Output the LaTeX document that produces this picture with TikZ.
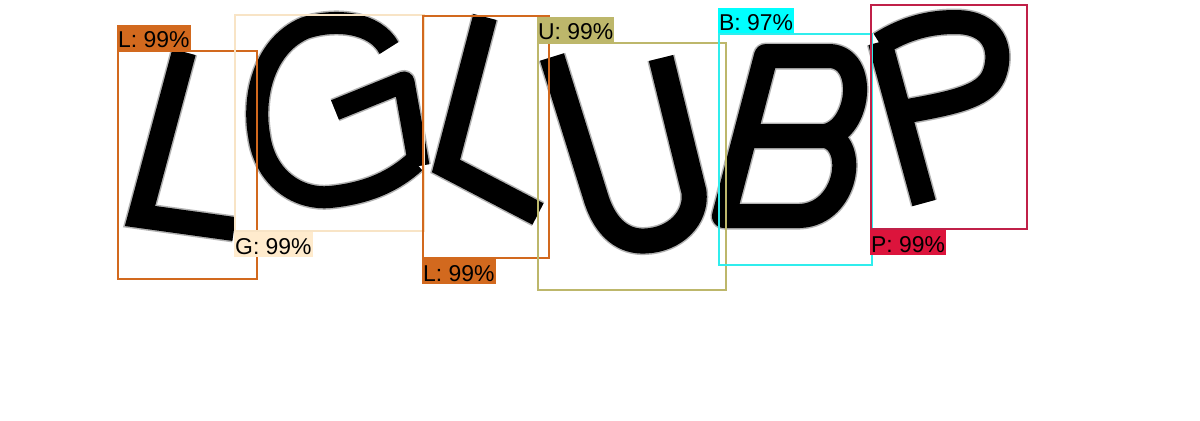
\documentclass[tikz,border=0pt]{standalone}
\usepackage{fontspec}
\setmainfont{Liberation Sans}
\definecolor{cChoc}{HTML}{D2691E}
\definecolor{cAlm}{HTML}{FFEBCD}
\definecolor{cAlmLine}{HTML}{F8E4C6}
\definecolor{cKhaki}{HTML}{BDB76B}
\definecolor{cCyan}{HTML}{00FFFF}
\definecolor{cCyanLine}{HTML}{30EDED}
\definecolor{cCrim}{HTML}{DC143C}
\definecolor{cCrimLine}{HTML}{C02048}
\newcommand{\myletters}[2]{%
  \begin{scope}[draw=#2, line cap=butt]
  \draw[line join=miter, line width=24bp+#1] (184,52) -- (140,216) -- (234,229);
  \draw[line join=round, line width=22bp+#1] (389,48) .. controls (375,22) and (335,18) .. (305,28)
     .. controls (265,45) and (252,95) .. (259,135)
     .. controls (265,180) and (300,200) .. (330,197)
     .. controls (370,193) and (395,180) .. (415,162);
  \draw[line join=round, line width=21bp+#1] (335,110) -- (404,82) -- (419,166);
  \draw[line join=miter, line width=24bp+#1] (485,17) -- (446,166) -- (538,214);
  \draw[line join=round, line width=25bp+#1] (552,57) -- (596,198) .. controls (606,230) and (625,242) .. (645,241)
     .. controls (675,240) and (697,218) .. (694,192) -- (661,58);
  \draw[line join=round, line width=24bp+#1] (745,136) -- (825,136) .. controls (860,130) and (868,58) .. (830,56)
     -- (766,56) -- (724,216) -- (800,216) .. controls (848,214) and (858,142) .. (825,136);
  \draw[line join=round, line width=24bp+#1] (924,203) -- (880,42);
  \draw[line join=round, line width=24bp+#1] (880,44) .. controls (905,28) and (930,22) .. (955,22)
     .. controls (995,22) and (1002,50) .. (995,72)
     .. controls (988,95) and (960,102) .. (902,112);
  \end{scope}}
\begin{document}
\begin{tikzpicture}[x=1bp,y=-1bp,
  detbox/.style={draw, line width=2bp, inner sep=0pt, anchor=north west, fill=none},
  tag/.style={font=\fontsize{23}{26}\selectfont, inner xsep=1bp, inner ysep=0pt,
              text height=22bp, text depth=2.5bp, text=black}]
\useasboundingbox[fill=white] (0,0) rectangle (1200,420);

% letters (soft edge, then solid)
\myletters{3bp}{black!30}
\myletters{0bp}{black}

% detections
\node[detbox, draw=cChoc, minimum width=139bp, minimum height=228bp] (bL1) at (117,50) {};
\node[tag, fill=cChoc, anchor=south west] (tL1) at (bL1.north west) {L: 99\%};

\node[detbox, draw=cAlmLine, minimum width=189bp, minimum height=216bp] (bG) at (234,14) {};
\node[tag, fill=cAlm, anchor=north west] (tG) at (bG.south west) {G: 99\%};

\node[detbox, draw=cChoc, minimum width=126bp, minimum height=242bp] (bL2) at (422,15) {};
\node[tag, fill=cChoc, anchor=north west] (tL2) at (bL2.south west) {L: 99\%};

\node[detbox, draw=cKhaki, minimum width=188bp, minimum height=247bp] (bU) at (537,42) {};
\node[tag, fill=cKhaki, anchor=south west] (tU) at (bU.north west) {U: 99\%};

\node[detbox, draw=cCyanLine, minimum width=153bp, minimum height=231bp] (bB) at (718,33) {};
\node[tag, fill=cCyan, anchor=south west] (tB) at (bB.north west) {B: 97\%};

\node[detbox, draw=cCrimLine, minimum width=156bp, minimum height=224bp] (bP) at (870,4) {};
\node[tag, fill=cCrim, anchor=north west] (tP) at (bP.south west) {P: 99\%};
\end{tikzpicture}
\end{document}
